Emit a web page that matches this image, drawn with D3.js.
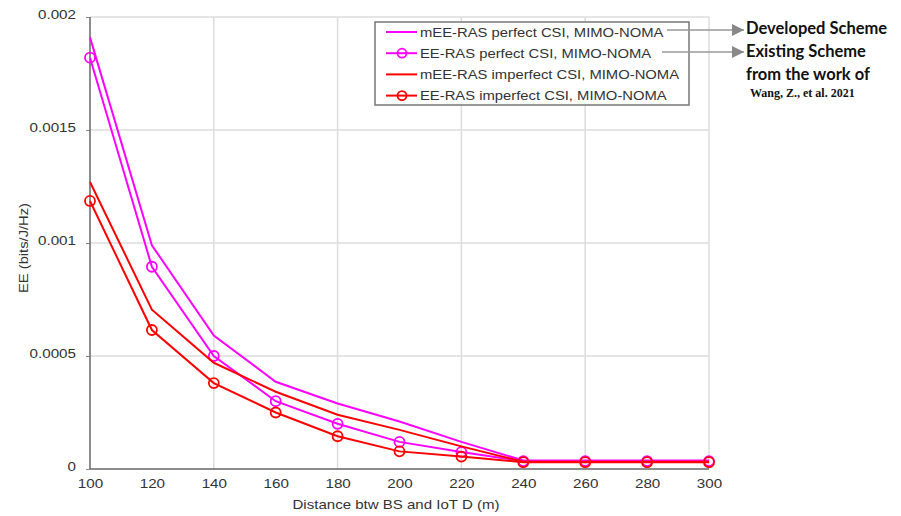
<!DOCTYPE html>
<html>
<head>
<meta charset="utf-8">
<script src="https://cdn.jsdelivr.net/npm/d3@7"></script>
<style>
  body { margin: 0; background: #fff; }
  svg { display: block; }
  text { font-family: "Liberation Sans", Arial, sans-serif; }
</style>
</head>
<body>
<svg id="canvas" width="901" height="516"></svg>
<script>
// distances (m)
var distances = [100, 120, 140, 160, 180, 200, 220, 240, 260, 280, 300];

// EE values (bits/J/Hz)
var meePerfect   = [0.00191, 0.00099, 0.00059, 0.000386, 0.00029, 0.00021, 0.00012, 0.000038, 0.000038, 0.000038, 0.000038];
var eePerfect    = [0.00182, 0.000895, 0.0005, 0.0003, 0.0002, 0.00012, 0.000075, 0.000035, 0.000035, 0.000035, 0.000035];
var meeImperfect = [0.00127, 0.000705, 0.00047, 0.000342, 0.00024, 0.000173, 0.0001, 0.000032, 0.000032, 0.000032, 0.000032];
var eeImperfect  = [0.001186, 0.000615, 0.00038, 0.00025, 0.000145, 0.000078, 0.000055, 0.00003, 0.00003, 0.00003, 0.00003];

var seriesNames = [
    'mEE-RAS perfect CSI, MIMO-NOMA',
    'EE-RAS perfect CSI, MIMO-NOMA',
    'mEE-RAS imperfect CSI, MIMO-NOMA',
    'EE-RAS imperfect CSI, MIMO-NOMA'
];
var seriesColors = ['#ff00ff', '#ff00ff', '#ff0000', '#ff0000'];
var seriesMarkers = [false, true, false, true];

var xTicks = [100, 120, 140, 160, 180, 200, 220, 240, 260, 280, 300];
var xGrid = [140, 180, 220, 260, 300];
var yTicks = [0, 0.0005, 0.001, 0.0015, 0.002];
var yTickLabels = ['0', '0.0005', '0.001', '0.0015', '0.002'];

var series = [meePerfect, eePerfect, meeImperfect, eeImperfect].map(function(vals, i) {
    return {
        name: seriesNames[i],
        color: seriesColors[i],
        marker: seriesMarkers[i],
        points: vals.map(function(v, j) { return { x: distances[j], y: v }; })
    };
});

var svg = d3.select('#canvas');

var x = d3.scaleLinear().domain([100, 300]).range([90, 709]);
var y = d3.scaleLinear().domain([0, 0.002]).range([469, 17]);

// the source figure is slightly stretched sideways
var stretch = 'scale(1.17,1)';

// grid
svg.append('g').selectAll('line.vg')
    .data(xGrid)
    .enter().append('line')
    .attr('x1', function(d) { return x(d); })
    .attr('x2', function(d) { return x(d); })
    .attr('y1', y(0.002))
    .attr('y2', y(0))
    .style('stroke', '#dcdcdc')
    .style('stroke-width', 1.5);

svg.append('g').selectAll('line.hg')
    .data(yTicks.slice(1))
    .enter().append('line')
    .attr('x1', x(100))
    .attr('x2', x(300))
    .attr('y1', function(d) { return y(d); })
    .attr('y2', function(d) { return y(d); })
    .style('stroke', '#dcdcdc')
    .style('stroke-width', 1.5);

// axes
var yAxis = d3.axisLeft(y)
    .tickValues(yTicks)
    .tickSize(4)
    .tickPadding(8)
    .tickFormat(function(d, i) { return yTickLabels[i]; });

var xAxis = d3.axisBottom(x)
    .tickValues(xTicks)
    .tickSize(0)
    .tickPadding(10)
    .tickFormat(d3.format('d'));

var gy = svg.append('g')
    .attr('transform', 'translate(' + x(100) + ',0)')
    .call(yAxis);
gy.select('.domain').remove();
gy.selectAll('line').style('stroke', '#888');
gy.selectAll('text')
    .attr('transform', stretch)
    .style('font-size', '13px')
    .style('fill', '#333')
    .attr('dy', '0.1em');

var gx = svg.append('g')
    .attr('transform', 'translate(0,' + y(0) + ')')
    .call(xAxis);
gx.select('.domain').remove();
gx.selectAll('text')
    .attr('transform', stretch)
    .style('font-size', '13px')
    .style('fill', '#333');

svg.append('line')
    .attr('x1', x(100)).attr('x2', x(100))
    .attr('y1', y(0.002)).attr('y2', y(0))
    .style('stroke', '#666').style('stroke-width', 1.5);
svg.append('line')
    .attr('x1', x(100)).attr('x2', x(300))
    .attr('y1', y(0)).attr('y2', y(0))
    .style('stroke', '#666').style('stroke-width', 1.5);

// axis labels
svg.append('text')
    .attr('x', 396)
    .attr('y', 509)
    .attr('text-anchor', 'middle')
    .attr('textLength', 207)
    .attr('lengthAdjust', 'spacingAndGlyphs')
    .style('font-size', '13px')
    .style('fill', '#333')
    .text('Distance btw BS and IoT D (m)');

svg.append('text')
    .attr('transform', 'translate(28,248) rotate(-90)')
    .attr('text-anchor', 'middle')
    .attr('textLength', 90)
    .attr('lengthAdjust', 'spacingAndGlyphs')
    .style('font-size', '13px')
    .style('fill', '#333')
    .text('EE (bits/J/Hz)');

// lines
var line = d3.line()
    .x(function(d) { return x(d.x); })
    .y(function(d) { return y(d.y); });

var gs = svg.selectAll('g.series')
    .data(series)
    .enter().append('g')
    .attr('class', 'series');

gs.append('path')
    .attr('d', function(d) { return line(d.points); })
    .style('fill', 'none')
    .style('stroke', function(d) { return d.color; })
    .style('stroke-width', 2);

gs.filter(function(d) { return d.marker; })
    .selectAll('circle')
    .data(function(d) { return d.points.map(function(p) { return { p: p, color: d.color }; }); })
    .enter().append('circle')
    .attr('cx', function(d) { return x(d.p.x); })
    .attr('cy', function(d) { return y(d.p.y); })
    .attr('r', 5)
    .style('fill', 'none')
    .style('stroke', function(d) { return d.color; })
    .style('stroke-width', 1.8);

// legend
var legend = svg.append('g').attr('transform', 'translate(375,22)');
legend.append('rect')
    .attr('width', 314)
    .attr('height', 83)
    .style('fill', '#fff')
    .style('stroke', '#777')
    .style('stroke-width', 1.5);

var items = legend.selectAll('g.item')
    .data(series)
    .enter().append('g')
    .attr('transform', function(d, i) { return 'translate(0,' + (10 + i * 21.2) + ')'; });

items.append('line')
    .attr('x1', 11).attr('x2', 42)
    .attr('y1', 0).attr('y2', 0)
    .style('stroke', function(d) { return d.color; })
    .style('stroke-width', 2);

items.filter(function(d) { return d.marker; })
    .append('circle')
    .attr('cx', 27).attr('cy', 0).attr('r', 4.5)
    .style('fill', 'none')
    .style('stroke', function(d) { return d.color; })
    .style('stroke-width', 1.8);

items.append('text')
    .attr('transform', 'translate(45,0) scale(1.14,1)')
    .attr('dy', '0.35em')
    .style('font-size', '13px')
    .style('fill', '#333')
    .text(function(d) { return d.name; });

// annotations
var defs = svg.append('defs');
defs.append('marker')
    .attr('id', 'arrow')
    .attr('viewBox', '0 0 10 10')
    .attr('refX', 10).attr('refY', 5)
    .attr('markerWidth', 8).attr('markerHeight', 8)
    .attr('orient', 'auto')
    .append('path')
    .attr('d', 'M0,0L10,5L0,10z')
    .style('fill', '#888');

var arrows = [
    { x1: 667, y1: 30, x2: 744, y2: 30 },
    { x1: 662, y1: 52, x2: 744, y2: 52 }
];
svg.selectAll('line.arrow')
    .data(arrows)
    .enter().append('line')
    .attr('x1', function(d) { return d.x1; })
    .attr('y1', function(d) { return d.y1; })
    .attr('x2', function(d) { return d.x2; })
    .attr('y2', function(d) { return d.y2; })
    .attr('marker-end', 'url(#arrow)')
    .style('stroke', '#999')
    .style('stroke-width', 1.5);

var notes = [
    { text: 'Developed Scheme', y: 34 },
    { text: 'Existing Scheme', y: 57 },
    { text: 'from the work of', y: 80 }
];
svg.selectAll('text.note')
    .data(notes)
    .enter().append('text')
    .attr('x', 746)
    .attr('y', function(d) { return d.y; })
    .style('font-family', 'Lato, "Open Sans", sans-serif')
    .style('font-weight', 'bold')
    .style('font-size', '16.5px')
    .style('fill', '#111')
    .text(function(d) { return d.text; });

svg.append('text')
    .attr('x', 750)
    .attr('y', 97)
    .style('font-family', '"Liberation Serif", "DejaVu Serif", serif')
    .style('font-weight', 'bold')
    .style('font-size', '12px')
    .style('fill', '#111')
    .text('Wang, Z., et al. 2021');
</script>
</body>
</html>
